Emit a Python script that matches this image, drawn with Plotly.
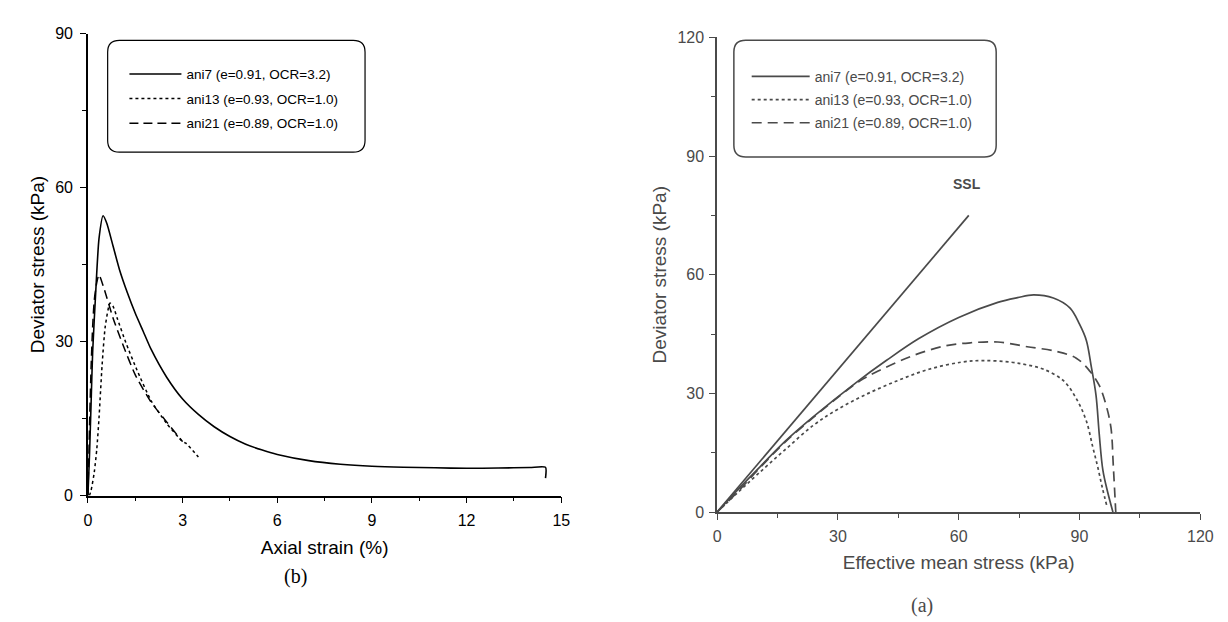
import plotly.graph_objects as go

# ---------------- data: (b) deviator stress vs axial strain ----------------
b_ani7_strain = [0, 0.05, 0.1, 0.15, 0.25, 0.35, 0.48, 0.6, 0.8, 1.0, 1.25, 1.5, 1.75, 2.0, 2.5, 3.0, 3.5,
                 4.0, 4.5, 5.0, 5.5, 6.0, 7.0, 8.0, 9.0, 10.0, 11.0, 12.0, 13.0, 14.0, 14.5, 14.5]
b_ani7_q = [0, 8, 18, 28, 40, 50, 54.5, 53, 48.5, 44, 39.5, 35.5, 32, 28.5, 23, 18.8, 15.8,
            13.4, 11.5, 10, 8.9, 8.0, 6.8, 6.1, 5.7, 5.5, 5.4, 5.3, 5.35, 5.45, 5.5, 3.4]

b_ani13_strain = [0.05, 0.1, 0.2, 0.28, 0.35, 0.45, 0.55, 0.7, 0.8, 0.93, 1.2, 1.55, 2.0, 2.5, 3.0, 3.1, 3.5]
b_ani13_q = [0, 1, 4.5, 9, 15, 25.5, 33, 37.5, 36.8, 34.5, 29.8, 24.5, 18.5, 14, 10.5, 10.2, 7.5]

b_ani21_strain = [0, 0.03, 0.06, 0.1, 0.15, 0.2, 0.28, 0.35, 0.5, 0.8, 1.1, 1.5, 2.0, 2.5, 3.0]
b_ani21_q = [0, 8, 16, 25, 33, 38, 41.5, 43, 40.5, 34.5, 29.5, 23.5, 18.2, 14.3, 10.5]

# ---------------- data: (a) deviator stress vs effective mean stress ----------------
ssl_p = [0, 62.5]
ssl_q = [0, 75]

a_ani7_p = [0, 5, 11, 17, 24, 34.6, 42, 50, 60, 69.7, 74.6, 78.6, 83.5, 87.6, 90, 91.7,
            92.9, 94.1, 94.9, 95.8, 97, 98.3]
a_ani7_q = [0, 5.5, 11.8, 18, 24.2, 32.8, 38.3, 43.8, 49.2, 53, 54.2, 54.9, 54.1, 51.6, 47.5, 43.4,
            36.9, 29.5, 19.7, 10.6, 5, 0]

a_ani13_p = [0, 5, 10, 16.7, 24, 30, 37.1, 45, 52.6, 60.7, 66, 72.9, 77, 81.1, 86, 89.2,
             91.7, 93.3, 94.5, 95.7, 96.8]
a_ani13_q = [0, 4.8, 9.5, 15.6, 22, 26, 29.8, 33.3, 36.1, 37.9, 38.3, 37.9, 37.2, 36.1, 33.2, 28.7,
             23, 16.4, 11.5, 6, 1.5]

a_ani21_p = [0, 5, 10, 16.7, 24, 30, 35.5, 40.3, 48.5, 56.6, 63, 69.7, 77, 84.3, 89.2, 92.5,
             94.9, 96.6, 97.8, 98.4, 99]
a_ani21_q = [0, 5, 10.5, 17.5, 24, 29, 33.2, 35.8, 39.5, 42, 42.8, 43, 41.8, 40.6, 38.9, 35.7,
             32, 27, 21.4, 11.5, 0]

names = ["ani7 (e=0.91, OCR=3.2)", "ani13 (e=0.93, OCR=1.0)", "ani21 (e=0.89, OCR=1.0)"]
b_ticks = [0, 3, 6, 9, 12, 15]
b_yticks = [0, 30, 60, 90]
a_ticks = [0, 30, 60, 90, 120]

W, H = 1228, 622
SANS = "Liberation Sans, Arial, sans-serif"
SERIF = "Liberation Serif, Times New Roman, serif"
GREY = "#4a4a4a"


def px_x(p):
    return p / W


def px_y(p):
    return 1 - p / H


fig = go.Figure()

# left chart traces
fig.add_trace(go.Scatter(x=b_ani7_strain, y=b_ani7_q, mode="lines", name=names[0],
                         line=dict(color="black", width=1.6, shape="spline", smoothing=0.6),
                         legend="legend", legendgroup="b1", xaxis="x", yaxis="y"))
fig.add_trace(go.Scatter(x=b_ani13_strain, y=b_ani13_q, mode="lines", name=names[1],
                         line=dict(color="black", width=1.5, dash="3px,3px", shape="spline", smoothing=0.6),
                         legend="legend", legendgroup="b2", xaxis="x", yaxis="y"))
fig.add_trace(go.Scatter(x=b_ani21_strain, y=b_ani21_q, mode="lines", name=names[2],
                         line=dict(color="black", width=1.5, dash="9px,5px", shape="spline", smoothing=0.6),
                         legend="legend", legendgroup="b3", xaxis="x", yaxis="y"))

# right chart traces
fig.add_trace(go.Scatter(x=ssl_p, y=ssl_q, mode="lines", showlegend=False,
                         line=dict(color=GREY, width=1.7), xaxis="x2", yaxis="y2"))
fig.add_trace(go.Scatter(x=a_ani7_p, y=a_ani7_q, mode="lines", name=names[0],
                         line=dict(color=GREY, width=1.7, shape="spline"), legend="legend2",
                         legendgroup="a1", xaxis="x2", yaxis="y2"))
fig.add_trace(go.Scatter(x=a_ani13_p, y=a_ani13_q, mode="lines", name=names[1],
                         line=dict(color=GREY, width=1.7, dash="3px,3px", shape="spline"),
                         legend="legend2", legendgroup="a2", xaxis="x2", yaxis="y2"))
fig.add_trace(go.Scatter(x=a_ani21_p, y=a_ani21_q, mode="lines", name=names[2],
                         line=dict(color=GREY, width=1.7, dash="10px,6px", shape="spline"),
                         legend="legend2", legendgroup="a3", xaxis="x2", yaxis="y2"))

axis_common = dict(showgrid=False, zeroline=False, showline=True, ticks="outside",
                   ticklen=6, tickwidth=1.2, linewidth=1.5)


def rounded_box(x0, y0, x1, y1, r):
    rx, ry = r / W, r / H
    X0, X1 = px_x(x0), px_x(x1)
    Y0, Y1 = px_y(y0), px_y(y1)  # Y0 top, Y1 bottom
    return (f"M {X0+rx},{Y0} L {X1-rx},{Y0} Q {X1},{Y0} {X1},{Y0-ry} "
            f"L {X1},{Y1+ry} Q {X1},{Y1} {X1-rx},{Y1} L {X0+rx},{Y1} "
            f"Q {X0},{Y1} {X0},{Y1+ry} L {X0},{Y0-ry} Q {X0},{Y0} {X0+rx},{Y0} Z")


fig.update_layout(
    width=W, height=H, autosize=False,
    margin=dict(l=0, r=0, t=0, b=0),
    paper_bgcolor="white", plot_bgcolor="white",
    font=dict(family=SANS, color="black"),
    xaxis=dict(axis_common, domain=[px_x(77), px_x(557)], range=[0, 15], anchor="y",
               tickvals=b_ticks, linecolor="black", tickcolor="black",
               minor=dict(ticks="outside", dtick=1.5, ticklen=4, tickcolor="black"),
               tickfont=dict(size=16, color="black"), ticklabelstandoff=4,
               title=dict(text="Axial strain (%)", font=dict(size=19), standoff=12)),
    yaxis=dict(axis_common, domain=[px_y(493), px_y(18)], range=[0, 90], anchor="x",
               tickvals=b_yticks, linecolor="black", tickcolor="black",
               minor=dict(ticks="outside", dtick=15, ticklen=4, tickcolor="black"),
               tickfont=dict(size=16, color="black"), ticklabelstandoff=4,
               title=dict(text="Deviator stress (kPa)", font=dict(size=19), standoff=6)),
    xaxis2=dict(axis_common, domain=[px_x(715), px_x(1205)], range=[0, 120], anchor="y2",
                tickvals=a_ticks, linecolor=GREY, tickcolor=GREY,
                minor=dict(ticks="outside", dtick=15, ticklen=4, tickcolor=GREY),
                tickfont=dict(size=16, color=GREY), ticklabelstandoff=3,
                title=dict(text="Effective mean stress (kPa)", font=dict(size=19, color=GREY), standoff=12)),
    yaxis2=dict(axis_common, domain=[px_y(510), px_y(22)], range=[0, 120], anchor="x2",
                tickvals=a_ticks, linecolor=GREY, tickcolor=GREY,
                minor=dict(ticks="outside", dtick=15, ticklen=4, tickcolor=GREY),
                tickfont=dict(size=16, color=GREY), ticklabelstandoff=2,
                title=dict(text="Deviator stress (kPa)", font=dict(size=19, color=GREY), standoff=6)),
    legend=dict(x=px_x(114), y=px_y(44), xanchor="left", yanchor="top",
                bgcolor="rgba(0,0,0,0)", borderwidth=0, tracegroupgap=4, itemwidth=52,
                font=dict(size=13.5, color="black", family=SANS)),
    legend2=dict(x=px_x(745), y=px_y(46), xanchor="left", yanchor="top",
                 bgcolor="rgba(0,0,0,0)", borderwidth=0, tracegroupgap=2, itemwidth=58,
                 font=dict(size=14, color=GREY, family=SANS)),
    shapes=[
        dict(type="path", xref="paper", yref="paper", path=rounded_box(97, 25, 358, 140, 12),
             line=dict(color="black", width=1.2)),
        dict(type="path", xref="paper", yref="paper", path=rounded_box(732, 25, 998, 145, 12),
             line=dict(color=GREY, width=1.5)),
    ],
    annotations=[
        dict(text="SSL", x=62, y=83, xref="x2", yref="y2", showarrow=False,
             xanchor="center", yanchor="middle",
             font=dict(size=14, color=GREY, family=SANS, weight="bold")),
        dict(text="(b)", x=px_x(287), y=px_y(576), xref="paper", yref="paper", showarrow=False,
             xanchor="center", yanchor="middle",
             font=dict(size=20, color="black", family=SERIF)),
        dict(text="(a)", x=px_x(923), y=px_y(606), xref="paper", yref="paper", showarrow=False,
             xanchor="center", yanchor="middle",
             font=dict(size=20, color=GREY, family=SERIF)),
    ],
)

fig.write_html("out.html")
